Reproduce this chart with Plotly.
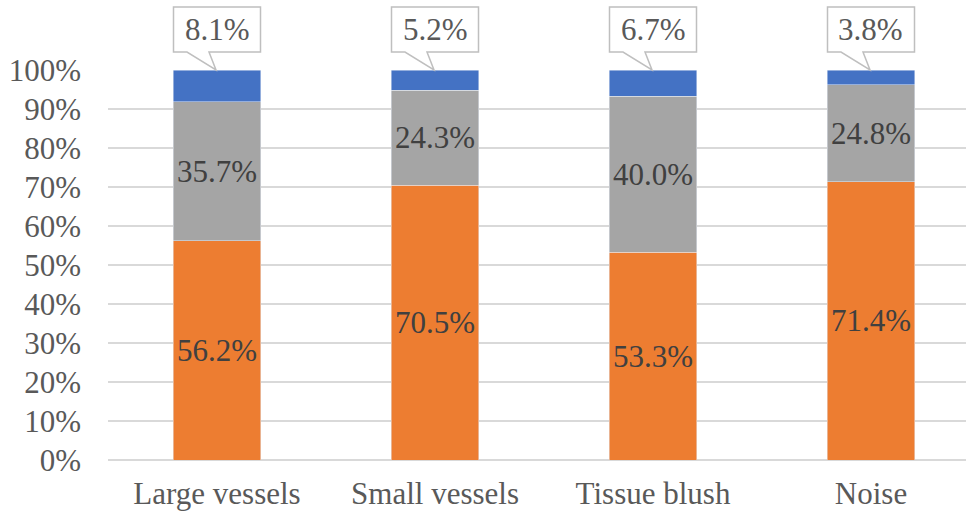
import plotly.graph_objects as go

# Share of each signal category (percent), stacked to 100%
categories = ["Large vessels", "Small vessels", "Tissue blush", "Noise"]
orange_vals = [56.2, 70.5, 53.3, 71.4]
gray_vals = [35.7, 24.3, 40.0, 24.8]
blue_vals = [8.1, 5.2, 6.7, 3.8]
y_ticks = [i / 10 for i in range(11)]

FONT = "Liberation Serif"
FS = 31
W, H = 966, 518
M_L, M_R, M_T, M_B = 108, 0, 70, 58
plot_w = W - M_L - M_R
plot_h = H - M_T - M_B
cat_px = 218.0
x0 = -0.5
x1 = x0 + plot_w / cat_px

fig = go.Figure()
fig.add_bar(
    x=categories, y=[v / 100 for v in orange_vals], marker_color="#ED7D31",
    text=[f"{v:.1f}%" for v in orange_vals], textposition="inside",
    insidetextanchor="middle", textangle=0, constraintext="none",
    textfont=dict(family=FONT, size=FS, color="#404040"), width=0.4,
    hoverinfo="skip",
)
fig.add_bar(
    x=categories, y=[v / 100 for v in gray_vals], marker_color="#A5A5A5",
    text=[f"{v:.1f}%" for v in gray_vals], textposition="inside",
    insidetextanchor="middle", textangle=0, constraintext="none",
    textfont=dict(family=FONT, size=FS, color="#404040"), width=0.4,
    hoverinfo="skip",
)
fig.add_bar(
    x=categories, y=[v / 100 for v in blue_vals], marker_color="#4472C4",
    textposition="none", width=0.4, hoverinfo="skip",
)


def px_x(i, dx=0.0):
    return (i - x0) / (x1 - x0) + dx / plot_w


def px_y(yv, dy=0.0):
    return yv + dy / plot_h


# Callout boxes with a pointer to the top of each stack
shapes = []
annotations = []
for i, v in enumerate(blue_vals):
    top = sum([orange_vals[i], gray_vals[i], v]) / 100
    bl, br = px_x(i, -43.5), px_x(i, 43.5)
    bt, bb = px_y(top, 63), px_y(top, 18)
    wl, wr = px_x(i, -30), px_x(i, -8)
    tx, ty = px_x(i, -1), px_y(top, 0)
    path = (f"M{bl},{bb} L{bl},{bt} L{br},{bt} L{br},{bb} "
            f"L{wr},{bb} L{tx},{ty} L{wl},{bb} Z")
    shapes.append(dict(type="path", xref="paper", yref="paper", path=path,
                       fillcolor="white", line=dict(color="#BFBFBF", width=1.5),
                       layer="above"))
    annotations.append(dict(x=px_x(i), y=(bt + bb) / 2, xref="paper", yref="paper",
                            xanchor="center", yanchor="middle",
                            text=f"{v:.1f}%", showarrow=False,
                            font=dict(family=FONT, size=FS, color="#595959")))

fig.update_layout(
    barmode="stack",
    width=W, height=H,
    margin=dict(l=M_L, r=M_R, t=M_T, b=M_B, pad=0),
    paper_bgcolor="white", plot_bgcolor="white",
    showlegend=False,
    shapes=shapes, annotations=annotations,
    font=dict(family=FONT, size=FS, color="#595959"),
    xaxis=dict(range=[x0, x1], showgrid=False, showline=False, zeroline=False,
               ticks="", ticklabelstandoff=12,
               tickfont=dict(family=FONT, size=FS, color="#595959")),
    yaxis=dict(range=[0, 1], tickvals=y_ticks, tickformat=".0%",
               showgrid=True, gridcolor="#D9D9D9", gridwidth=1.5,
               zeroline=True, zerolinecolor="#D9D9D9", zerolinewidth=1.5,
               showline=False, ticks="", ticklabelstandoff=26,
               tickfont=dict(family=FONT, size=FS, color="#595959")),
)

fig.write_html("out.html")
